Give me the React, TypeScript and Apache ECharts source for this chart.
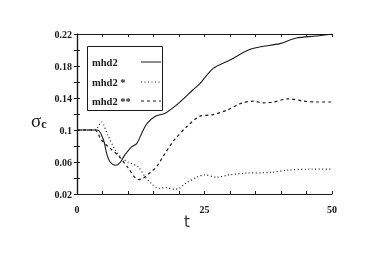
import React, { useEffect, useRef } from "react";
import * as echarts from "echarts";

const seriesNames = ["mhd2", "mhd2 *", "mhd2 **"];

// mhd2 (solid)
const solidT = [0, 2, 4, 5.2, 5.8, 6.5, 7.5, 8.4, 9.4, 10.7, 11.7, 12.7, 13.7, 15.3, 17.3, 20.2, 22.7, 24.1, 26.7, 30, 33.6, 36, 39.8, 43, 47, 50];
const solidV = [0.1, 0.1, 0.1, 0.0875, 0.071, 0.06, 0.056, 0.059, 0.069, 0.079, 0.083, 0.096, 0.108, 0.117, 0.121, 0.135, 0.15, 0.158, 0.177, 0.1875, 0.2, 0.204, 0.208, 0.215, 0.2175, 0.22];

// mhd2 * (dotted)
const dottedT = [0, 2, 3.7, 4.8, 6, 7.5, 8.8, 10, 12, 13.3, 14.6, 16, 17.5, 19, 20, 21.5, 23.5, 25, 27.4, 30, 33, 38, 41.5, 46, 50];
const dottedV = [0.1, 0.1, 0.101, 0.11, 0.094, 0.075, 0.065, 0.06, 0.054, 0.042, 0.033, 0.027, 0.028, 0.026, 0.027, 0.034, 0.041, 0.044, 0.041, 0.044, 0.046, 0.047, 0.05, 0.051, 0.051];

// mhd2 ** (dashed)
const dashedT = [0, 2, 3.5, 4.8, 6.5, 8.1, 10, 12, 13, 14.6, 15.6, 17, 19, 21.5, 24, 26.5, 29.5, 32, 34.5, 36.5, 38.5, 41.5, 44.5, 47, 50];
const dashedV = [0.1, 0.1, 0.1, 0.0875, 0.077, 0.068, 0.053, 0.038, 0.04, 0.048, 0.054, 0.068, 0.087, 0.104, 0.117, 0.119, 0.125, 0.133, 0.136, 0.134, 0.135, 0.139, 0.136, 0.135, 0.135];

const xLabels = [0, 25, 50];
const yLabels = ["0.02", "0.06", "0.1", "0.14", "0.18", "0.22"];

const zip = (t: number[], v: number[]) => t.map((x, i) => [x, v[i]]);

const SERIF = "Liberation Serif";
const INK = "#1a1a1a";

export default function App() {
  const ref = useRef<HTMLDivElement>(null);
  useEffect(() => {
    if (!ref.current) return;
    const chart = echarts.init(ref.current, null, { renderer: "svg" });
    const tickStyle = { show: true, inside: true, length: 3, lineStyle: { color: INK, width: 1 } };
    const fmtY = (v: number) => {
      const s = String(Math.round(v * 100) / 100);
      return yLabels.includes(s) ? s : "";
    };
    const fmtX = (v: number) => (xLabels.includes(Math.round(v)) ? String(Math.round(v)) : "");
    const dashes: (string | number[])[] = ["solid", [1, 2.5], [3, 3]];
    const datas = [zip(solidT, solidV), zip(dottedT, dottedV), zip(dashedT, dashedV)];
    const legendRows = [62, 82, 101];
    chart.setOption({
      animation: false,
      grid: { left: 77, top: 34, width: 255, height: 160 },
      xAxis: [
        {
          type: "value", min: 0, max: 50, interval: 5,
          axisLine: { show: true, lineStyle: { color: INK, width: 1.2 } },
          axisTick: tickStyle,
          splitLine: { show: false },
          axisLabel: { formatter: fmtX, fontFamily: SERIF, fontWeight: "bold", fontSize: 10, color: INK, margin: 10, showMinLabel: true, showMaxLabel: true },
        },
        {
          type: "value", position: "top", min: 0, max: 50, interval: 5,
          axisLine: { show: true, lineStyle: { color: INK, width: 1.2 } },
          axisTick: tickStyle, axisLabel: { show: false }, splitLine: { show: false },
        },
      ],
      yAxis: [
        {
          type: "value", min: 0.02, max: 0.22, interval: 0.02,
          axisLine: { show: true, lineStyle: { color: INK, width: 1.2 } },
          axisTick: tickStyle,
          splitLine: { show: false },
          axisLabel: { formatter: fmtY, fontFamily: SERIF, fontWeight: "bold", fontSize: 10, color: INK, margin: 5, showMinLabel: true, showMaxLabel: true },
        },
        {
          type: "value", position: "right", min: 0.02, max: 0.22, interval: 0.02,
          axisLine: { show: true, lineStyle: { color: INK, width: 1.2 } },
          axisTick: tickStyle, axisLabel: { show: false }, splitLine: { show: false },
        },
      ],
      series: seriesNames.map((name, i) => ({
        name,
        type: "line",
        data: datas[i],
        smooth: 0.3,
        symbol: "none",
        lineStyle: { color: INK, width: i === 0 ? 1.1 : 1.2, type: dashes[i] },
      })),
      graphic: [
        { type: "rect", shape: { x: 87.5, y: 46.5, width: 75, height: 64 }, style: { fill: "#fff", stroke: INK, lineWidth: 1 }, z: 10 },
        ...seriesNames.map((n, i) => ({
          type: "text", x: 92, y: legendRows[i], z: 11,
          style: { text: n, fontFamily: SERIF, fontWeight: "bold", fontSize: 10.5, fill: INK, verticalAlign: "middle" },
        })),
        ...seriesNames.map((n, i) => ({
          type: "line", z: 11,
          shape: { x1: 141, y1: legendRows[i], x2: 161, y2: legendRows[i] },
          style: { stroke: INK, lineWidth: 1, lineDash: i === 0 ? null : (dashes[i] as number[]) },
        })),
        {
          type: "text", x: 31, y: 110,
          style: {
            text: "{a|σ}{b|c}",
            rich: {
              a: { fontFamily: SERIF, fontSize: 19, fill: INK },
              b: { fontFamily: SERIF, fontSize: 12, fill: INK, padding: [8, 0, 0, 0], fontWeight: "bold" },
            },
          },
        },
        {
          type: "text", x: 184, y: 214,
          style: { text: "t", fontFamily: "DejaVu Sans", fontSize: 15, fill: "#333" },
        },
      ],
    });
    return () => chart.dispose();
  }, []);
  return <div ref={ref} style={{ position: "fixed", left: 0, top: 0, width: 386, height: 268 }} />;
}
